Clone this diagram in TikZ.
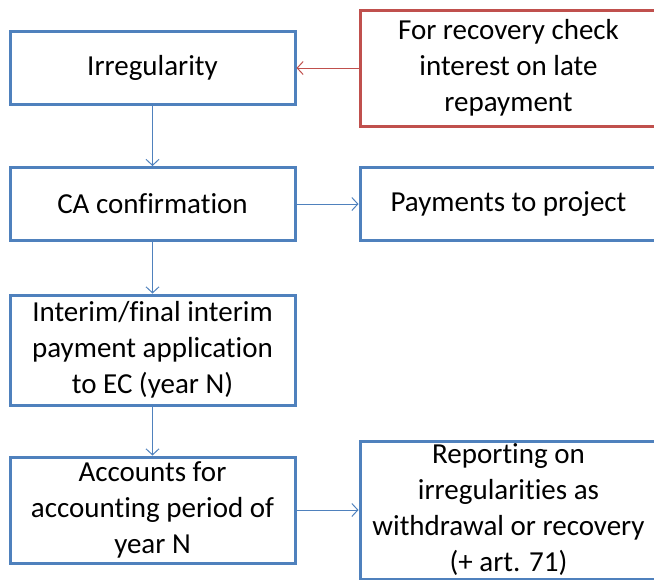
\documentclass[tikz,border=0pt]{standalone}
\usepackage{fontspec}
\setmainfont{Carlito}[Ligatures=NoCommon]
\usetikzlibrary{arrows.meta}
\definecolor{boxblue}{RGB}{79,129,189}
\definecolor{boxred}{RGB}{192,80,77}

\begin{document}
\begin{tikzpicture}[x=1pt, y=-1pt,
    >={Straight Barb[length=6pt,width=13pt]},
    box/.style={draw=boxblue, line width=3pt, fill=white, align=center,
        font=\fontsize{29}{36}\selectfont, inner sep=0pt},
    flow/.style={->, boxblue, line width=1pt}]
    \useasboundingbox (0,0) rectangle (654,579);
    \clip (0,0) rectangle (654,579);

    % ==================== left column ====================
    \node[box, minimum width=285pt, minimum height=73pt] (irreg) at (152.5,68) {Irregularity};
    \node[box, minimum width=285pt, minimum height=73pt] (confirm) at (152.5,204) {CA confirmation};
    \node[box, minimum width=285pt, minimum height=110pt] (interim) at (152.5,350) {Interim/final interim\\payment application\\to EC (year N)};
    \node[box, minimum width=285pt, minimum height=106pt] (accounts) at (152.5,510) {Accounts for\\accounting period of\\year N};

    % ==================== right column ====================
    \node[box, draw=boxred, minimum width=297pt, minimum height=116pt] (recovery) at (508.5,68) {For recovery check\\interest on late\\repayment};
    \node[box, minimum width=297pt, minimum height=73pt] (payments) at (508.5,204) {Payments to project};
    \node[box, minimum width=297pt, minimum height=138pt] (reporting) at (508.5,510) {Reporting on\\irregularities as\\withdrawal or recovery\\(+ art. 71)};

    % ==================== connectors ====================
    \draw[flow] (irreg) -- (confirm);
    \draw[flow] (confirm) -- (interim);
    \draw[flow] (interim) -- (accounts);
    \draw[flow] (confirm) -- (payments);
    \draw[flow] (accounts) -- (reporting);
    \draw[flow, boxred] (recovery) -- (irreg);
\end{tikzpicture}
\end{document}
